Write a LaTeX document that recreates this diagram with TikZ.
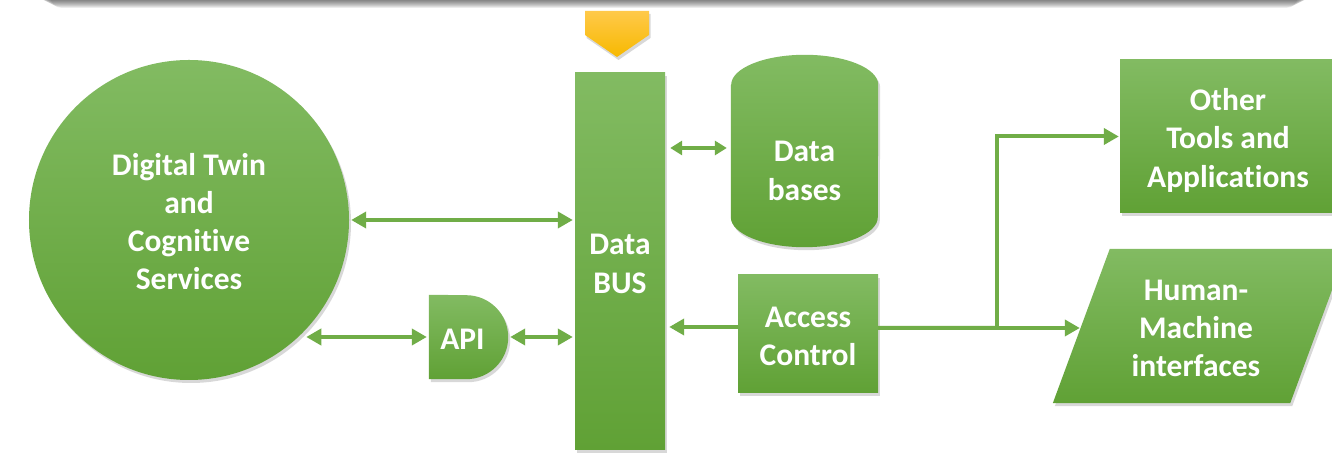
\documentclass[tikz,border=0pt]{standalone}
\usepackage{fontspec}
\setmainfont{Carlito}[Ligatures=NoCommon]
\usetikzlibrary{shadows,arrows.meta}
\pgfdeclarelayer{bgzero}
\pgfdeclarelayer{back}
\pgfsetlayers{bgzero,back,main}
\definecolor{gtop}{HTML}{82BB62}
\definecolor{gbot}{HTML}{60A135}
\definecolor{agreen}{HTML}{70AD47}
\definecolor{ytop}{HTML}{FFC94A}
\definecolor{ybot}{HTML}{F7B900}
\newcommand\ltxt[1]{\rule{0pt}{31bp}#1\rule[-6bp]{0pt}{0pt}}
\tikzset{
  gshape/.style={top color=gtop, bottom color=gbot, draw=none,
    drop shadow={opacity=0.3, shadow xshift=2bp, shadow yshift=-3bp}},
  box/.style={rectangle, inner sep=0pt},
  lbl/.style={text=white, align=center, inner sep=0pt,
    font=\fontsize{31.5bp}{38.3bp}\selectfont\bfseries},
  conn/.style={draw=agreen, line width=4bp, -{Triangle[length=15bp,width=16bp]}},
  biconn/.style={draw=agreen, line width=4bp, {Triangle[length=15bp,width=16bp]}-{Triangle[length=15bp,width=16bp]}},
  smallbi/.style={draw=agreen, line width=3.5bp, {Triangle[length=12bp,width=14bp]}-{Triangle[length=12bp,width=14bp]}},
}
\begin{document}
\begin{tikzpicture}[x=1bp,y=1bp]
\useasboundingbox (0,0) rectangle (1332,456);
\begin{pgfonlayer}{bgzero}
  \fill[white] (0,0) rectangle (1332,456);
  % soft shadow of the box above the picture
  \foreach \i in {1,...,8}
    \fill[black, opacity=0.075, rounded corners=12bp]
      ({34+2*\i},{456-\i}) rectangle ({1314-2*\i},520);
  % yellow marker
  \path[top color=ytop, bottom color=ybot, draw=none,
    drop shadow={opacity=0.3, shadow xshift=1.5bp, shadow yshift=-3bp}]
    (585,445) -- (649,445) -- (649,421) -- (617,399) -- (585,421) -- cycle;
\end{pgfonlayer}

% main nodes
\node[circle, minimum size=320bp, inner sep=0pt, gshape, lbl] (circ) at (189,236)
  {\ltxt{Digital Twin\\and\\Cognitive\\Services}};
\node[box, minimum width=90bp, minimum height=377bp, gshape, lbl] (bus) at (620,194.5)
  {\ltxt{Data\\BUS}};
\node[box, minimum width=140bp, minimum height=118bp, gshape, lbl] (ac) at (808,122)
  {\ltxt{Access\\Control}};
\node[box, minimum width=216bp, minimum height=153bp, gshape, lbl] (ot) at (1228,319.5)
  {\ltxt{Other\\Tools and\\Applications}};
\node[box, minimum width=237bp, minimum height=154bp, lbl] (hmi) at (1196,130)
  {\ltxt{Human-\\Machine\\interfaces}};
\node[box, minimum width=79bp, minimum height=84bp, lbl] (api) at (468.5,119)
  {\ltxt{\hspace*{-12bp}API}};
\node[box, minimum width=147bp, minimum height=192bp] (db) at (804.5,305) {};
\node[lbl] (dbt) at ([yshift=-17.5bp]db.center) {\ltxt{Data\\bases}};

\begin{pgfonlayer}{back}
  % parallelogram
  \path[gshape] ([xshift=-24.5bp]hmi.south west) -- ([xshift=32.5bp]hmi.north west)
    -- ([xshift=32.5bp]hmi.north east) -- ([xshift=-24.5bp]hmi.south east) -- cycle;
  % API D-shape
  \path[gshape] (api.south west) -- ([xshift=-42bp]api.south east)
    arc[start angle=-90, end angle=90, radius=42bp] -- (api.north west) -- cycle;
  % database cylinder
  \path[gshape] ([yshift=-30bp]db.north west) -- ([yshift=30bp]db.south west)
    arc[start angle=180, end angle=360, x radius=73.5bp, y radius=30bp]
    -- ([yshift=-30bp]db.north east)
    arc[start angle=0, end angle=180, x radius=73.5bp, y radius=30bp] -- cycle;
\end{pgfonlayer}

% connectors
\draw[biconn, shorten <=2bp, shorten >=2bp] (circ.east) -- (circ.east -| bus.west);
\draw[biconn, shorten <=8bp, shorten >=2bp] (circ.-47.5 |- api.west) -- (api.west);
\draw[biconn, shorten <=2bp, shorten >=2bp] (api.east) -- (api.east -| bus.west);
\draw[smallbi, shorten <=5bp, shorten >=4bp] ([yshift=3bp]bus.east |- db.west) -- ([yshift=3bp]db.west);
\draw[conn, shorten >=4bp] ([yshift=7bp]ac.west) -- ([yshift=7bp]ac.west -| bus.east);
\coordinate (jn) at (997,128);
\draw[draw=agreen, line width=4bp] ([yshift=6bp]ac.east) -- (jn);
\draw[conn, shorten >=1bp] (jn) |- (ot.west);
\draw[conn, shorten >=-2.5bp] (jn) -- (jn -| hmi.west);
\end{tikzpicture}
\end{document}
